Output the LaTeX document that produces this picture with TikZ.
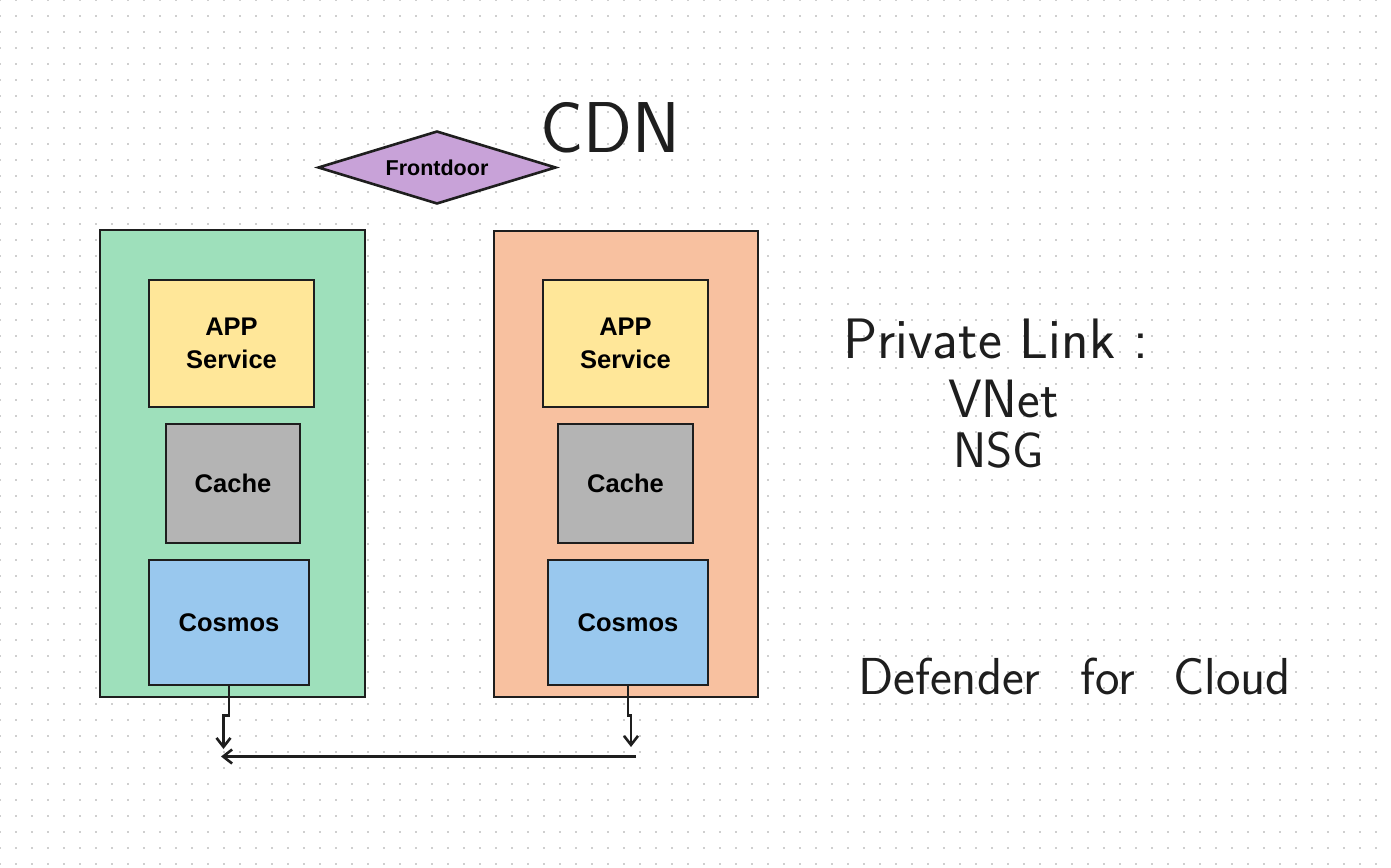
\documentclass[tikz,border=0pt]{standalone}
\usepackage{fontspec}
\setmainfont{Liberation Sans}
\usetikzlibrary{shapes.geometric,arrows.meta}
\definecolor{inkc}{HTML}{1E1E1E}
\definecolor{dotc}{HTML}{CFCFCF}
\definecolor{greenc}{HTML}{9EE0BB}
\definecolor{orangec}{HTML}{F8C1A0}
\definecolor{appc}{HTML}{FFE799}
\definecolor{cachec}{HTML}{B4B4B4}
\definecolor{cosc}{HTML}{99C8EE}
\definecolor{purplec}{HTML}{C8A2D8}
\tikzset{
  boxstyle/.style={draw=inkc, line width=2.6pt, rectangle, inner sep=0pt, align=center,
    font=\fontsize{25.5}{33}\selectfont\bfseries, text=black},
  container/.style={draw=inkc, line width=2.6pt, rectangle, inner sep=0pt},
  arr/.style={draw=inkc, line width=2.6pt, line join=miter, -{Straight Barb[length=9pt,width=14pt]}},
  hand/.style={inner sep=0pt, anchor=base west, text=inkc}
}
\begin{document}
\begin{tikzpicture}[x=1pt,y=-1pt]
\useasboundingbox (0,0) rectangle (1391,867);
\fill[white] (0,0) rectangle (1391,867);
% dot grid
\foreach \i in {0,...,87}{
  \foreach \j in {0,...,54}{
    \fill[dotc] ({\i*16-1.3},{\j*16-1.3}) rectangle ++(2,2);
  }
}
% containers
\node[container, fill=greenc, minimum width=265pt, minimum height=467pt] (contL) at (232.5,463.5) {};
\node[container, fill=orangec, minimum width=264pt, minimum height=466pt] (contR) at (626,464) {};
% left column
\node[boxstyle, fill=appc, minimum width=165pt, minimum height=127pt] (appL) at (231.5,343.5) {APP\\Service};
\node[boxstyle, fill=cachec, minimum width=134pt, minimum height=119pt] (cacheL) at (233,483.5) {Cache};
\node[boxstyle, fill=cosc, minimum width=160pt, minimum height=125pt] (cosL) at (229,622.5) {Cosmos};
% right column
\node[boxstyle, fill=appc, minimum width=165pt, minimum height=127pt] (appR) at (625.5,343.5) {APP\\Service};
\node[boxstyle, fill=cachec, minimum width=135pt, minimum height=119pt] (cacheR) at (625.5,483.5) {Cache};
\node[boxstyle, fill=cosc, minimum width=160pt, minimum height=125pt] (cosR) at (628,622.5) {Cosmos};
% frontdoor
\node[draw=inkc, line width=2.6pt, fill=purplec, diamond, aspect=3.26, inner sep=0pt,
  minimum width=238pt, minimum height=73pt, font=\fontsize{21.5}{24}\selectfont\bfseries] (front) at (437,167.5) {Frontdoor};
% connectors
\coordinate (tipL) at (223.5,749);
\coordinate (tipR) at (631,747);
\coordinate (hstart) at (636,756.5);
\coordinate (hend) at (221,756.5);
\draw[arr] (cosL.south) -- (cosL.south |- 0,715.5) -- (tipL |- 0,715.5) -- (tipL);
\draw[arr] (cosR.south) -- (cosR.south |- 0,715.5) -- (tipR |- 0,715.5) -- (tipR);
\draw[arr] (hstart) -- (hend);
% handwritten notes
\node[hand, font=\sffamily\fontsize{72}{80}\selectfont] (cdn) at (540,152) {CDN};
\node[hand, font=\sffamily\fontsize{57}{60}\selectfont] (plink) at (843,358) {Private Link :};
\node[hand, font=\sffamily\fontsize{54}{60}\selectfont] (vnet) at (948,417) {VNet};
\node[hand, font=\sffamily\fontsize{50}{55}\selectfont] (nsg) at (953,467) {NSG};
\node[hand, font=\sffamily\fontsize{52}{60}\selectfont] (defender) at (858,694) {Defender\hspace{40pt}for\hspace{38pt}Cloud};
\end{tikzpicture}
\end{document}
